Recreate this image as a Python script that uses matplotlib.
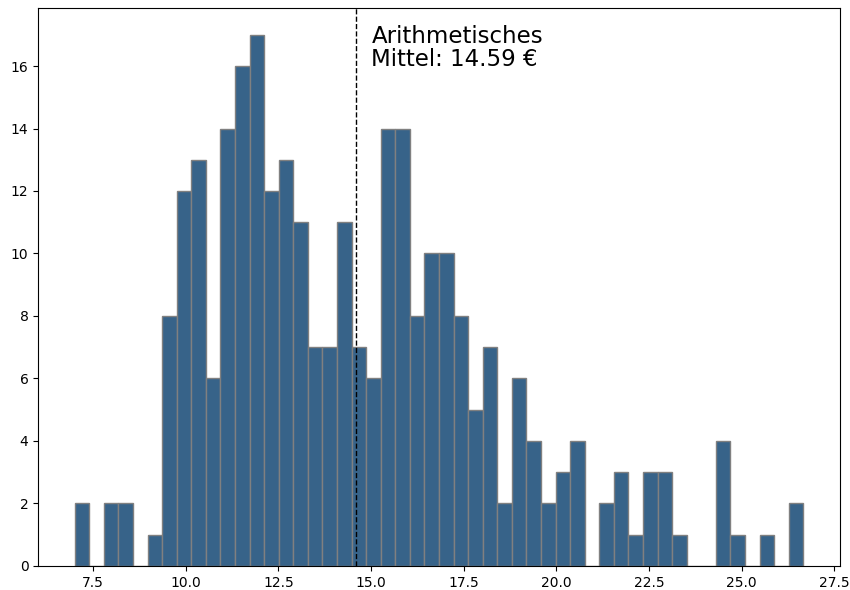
import matplotlib
matplotlib.use("Agg")
import matplotlib.pyplot as plt
import numpy as np

# Histogram bin range and counts (50 equal bins)
bin_min = 7.0
bin_max = 26.67
counts = [2, 0, 2, 2, 0, 1, 8, 12, 13, 6,
          14, 16, 17, 12, 13, 11, 7, 7, 11, 7,
          6, 14, 14, 8, 10, 10, 8, 5, 7, 2,
          6, 4, 2, 3, 4, 0, 2, 3, 1, 3,
          3, 1, 0, 0, 4, 1, 0, 1, 0, 2]
mean_value = 14.59
label_text = "Arithmetisches\nMittel: 14.59 €"

edges = np.linspace(bin_min, bin_max, len(counts) + 1)

fig = plt.figure(figsize=(8.5, 5.9), dpi=100)
ax = fig.add_axes([0.045, 0.041, 0.943, 0.945])
ax.hist(edges[:-1], bins=edges, weights=counts, color="#376389",
        edgecolor="grey", linewidth=1)
ax.axvline(mean_value, color="black", linestyle="--", linewidth=1)
ax.text(mean_value + 0.42, 17.33, label_text, fontsize=16.5, va="top", ha="left",
        linespacing=1.05)
ax.set_xticks([7.5, 10.0, 12.5, 15.0, 17.5, 20.0, 22.5, 25.0, 27.5])
ax.set_yticks(range(0, 17, 2))
fig.savefig("out.png", dpi=100)
